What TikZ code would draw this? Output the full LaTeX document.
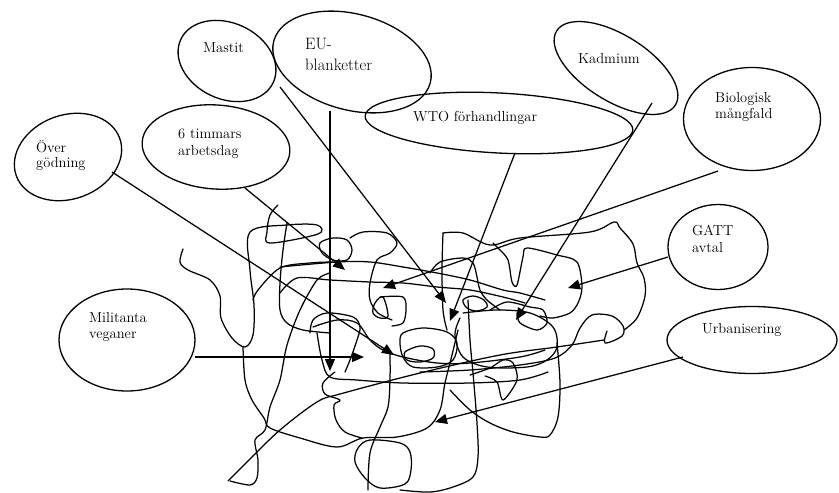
\documentclass[tikz,border=0pt]{standalone}
\usetikzlibrary{shapes.geometric,arrows.meta}
\begin{document}
\begin{tikzpicture}[x=1pt,y=-1pt,
  oval/.style={draw, ellipse, line width=1.3pt, inner sep=0pt},
  lbl/.style={anchor=base west, inner sep=0pt, font=\fontsize{14.5}{17}\selectfont},
  biglbl/.style={anchor=base west, inner sep=0pt, font=\fontsize{16.5}{19}\selectfont},
  arr/.style={line width=1.25pt, -{Triangle[length=12pt,width=10pt]}},
  sc/.style={line width=1.25pt, line join=round, line cap=round}]
\useasboundingbox (0,0) rectangle (839,493);

% ellipses
\node[oval, minimum width=110pt, minimum height=84pt, rotate=20] (ovr) at (68,157) {};
\node[oval, minimum width=102pt, minimum height=76pt, rotate=-25] (mas) at (227,61) {};
\node[oval, minimum width=162pt, minimum height=96pt, rotate=-15] (eu) at (352,62) {};
\node[oval, minimum width=148pt, minimum height=84pt, rotate=-4] (six) at (216,147) {};
\node[oval, minimum width=268pt, minimum height=60pt, rotate=-3] (wto) at (499,123) {};
\node[oval, minimum width=140pt, minimum height=66pt, rotate=-32] (kad) at (616,68) {};
\node[oval, minimum width=137pt, minimum height=103pt] (bio) at (752,119) {};
\node[oval, minimum width=100pt, minimum height=85pt] (gatt) at (718,247) {};
\node[oval, minimum width=170pt, minimum height=67pt] (urb) at (752,340) {};
\node[oval, minimum width=136pt, minimum height=102pt] (mil) at (127,340) {};

% labels
\node[lbl] (tovr1) at (36,152) {Över};
\node[lbl] (tovr2) at (36,167) {gödning};
\node[lbl] (tmas) at (203,52) {Mastit};
\node[biglbl] (teu1) at (305,49) {EU-};
\node[biglbl] (teu2) at (305,70) {blanketter};
\node[lbl] (tsix1) at (178,138) {6 timmars};
\node[lbl] (tsix2) at (178,155) {arbetsdag};
\node[lbl] (twto) at (413,121) {WTO förhandlingar};
\node[lbl] (tkad) at (578,63) {Kadmium};
\node[lbl] (tbio1) at (715,102) {Biologisk};
\node[lbl] (tbio2) at (715,118) {mångfald};
\node[lbl] (tgatt1) at (692,235) {GATT};
\node[lbl] (tgatt2) at (692,252) {avtal};
\node[lbl] (turb) at (702,333) {Urbanisering};
\node[lbl] (tmil1) at (89,322) {Militanta};
\node[lbl] (tmil2) at (89,338) {veganer};

% scribble
\draw[sc] plot[smooth,tension=0.55] coordinates {(183,249) (180,262) (188,270) (210,280) (220,296) (221,318) (232,338) (245,347) (253,335) (254,305) (250,270) (250,232) (287,225) (317,225) (318,234) (270,243) (267,232) (270,215) (278,205)};
\draw[sc] plot[smooth,tension=0.55] coordinates {(243,347) (245,380) (252,400) (264,418) (270,428) (300,438) (337,447) (363,438) (397,437) (427,428) (440,410) (445,383) (452,355) (458,330)};
\draw[sc] plot[smooth,tension=0.55] coordinates {(228,481) (247,462) (280,430) (317,402) (340,394) (420,373) (500,355) (557,347) (604,340)};
\draw[sc] plot[smooth,tension=0.55] coordinates {(607,331) (605,343) (622,336) (623,326) (612,316) (592,315) (580,328) (572,345) (555,358) (520,365) (470,370) (420,372)};
\draw[sc] plot[smooth,tension=0.55] coordinates {(443,233) (463,233) (490,245) (520,238) (590,232) (614,222) (620,228) (633,244) (637,263) (644,278) (645,296) (637,318) (624,330)};
\draw[sc] plot[smooth,tension=0.5] coordinates {(493,243) (500,250) (508,260) (512,282) (517,285) (523,257) (527,248) (557,255) (577,262) (582,287) (578,303) (570,313) (553,318) (540,316)};
\draw[sc] plot[smooth,tension=0.55] coordinates {(280,267) (337,262) (370,262) (403,267) (437,273) (470,280) (503,290) (520,293) (545,300)};
\draw[sc] plot[smooth,tension=0.55] coordinates {(280,293) (297,278) (330,280) (370,282) (403,283) (437,287) (470,290) (503,297) (525,303)};
\draw[sc] plot[smooth,tension=0.55] coordinates {(350,238) (363,232) (387,233) (397,243) (390,253) (377,260) (370,283) (370,300) (378,313) (392,320)};
\draw[sc] plot[smooth cycle,tension=0.55] coordinates {(320,243) (333,238) (347,240) (352,250) (347,260) (333,260) (322,253)};
\draw[sc] plot[smooth cycle,tension=0.55] coordinates {(400,343) (403,333) (423,328) (447,332) (457,343) (453,360) (437,367) (413,367) (403,357)};
\draw[sc] plot[smooth cycle,tension=0.55] coordinates {(405,352) (420,346) (433,349) (433,358) (420,362) (407,360)};
\draw[sc] plot[smooth,tension=0.55] coordinates {(313,327) (337,320) (357,323) (370,340) (383,350) (403,357) (437,363) (470,363) (520,357) (545,350)};
\draw[sc] plot[smooth,tension=0.55] coordinates {(317,333) (322,360) (330,377) (357,380) (403,383) (470,383) (520,380) (548,372)};
\draw[sc] plot[smooth,tension=0.55] coordinates {(287,223) (283,250) (280,283) (280,310) (287,323) (303,330) (330,333)};
\draw[sc] plot[smooth,tension=0.5] coordinates {(330,273) (317,280) (300,310) (287,345) (280,380) (270,407) (265,430) (255,440) (258,460) (257,478) (250,485) (230,481)};
\draw[sc] plot[smooth cycle,tension=0.55] coordinates {(370,440) (358,448) (355,462) (365,478) (380,488) (405,484) (411,470) (410,452) (400,443)};
\draw[sc] plot[smooth,tension=0.55] coordinates {(390,353) (390,380) (388,407) (380,427) (370,453) (368,490)};
\draw[sc] plot[smooth,tension=0.55] coordinates {(468,300) (470,340) (473,373) (477,423) (478,457) (473,477) (453,487) (430,492) (400,490)};
\draw[sc] plot[smooth,tension=0.55] coordinates {(557,343) (560,383) (558,417) (550,435) (540,437) (513,432) (490,423) (470,410) (450,390)};
\draw[sc] plot[smooth,tension=0.5] coordinates {(490,310) (507,302) (530,307) (543,310) (547,323) (537,330) (520,323) (517,313)};
\draw[sc] plot[smooth,tension=0.55] coordinates {(463,313) (497,310) (530,313) (553,327) (557,347) (547,360) (527,367) (487,367) (463,357) (455,335) (460,318)};
\draw[sc] plot[smooth,tension=0.55] coordinates {(443,233) (442,270) (443,310) (447,330)};
\draw[sc] plot[smooth,tension=0.55] coordinates {(430,273) (440,262) (463,258) (473,263) (477,277) (480,290) (487,300) (500,310)};
\draw[sc] plot[smooth,tension=0.55] coordinates {(310,333) (313,320) (327,313) (353,317) (360,327) (357,340) (350,360) (345,372)};
\draw[sc] plot[smooth,tension=0.55] coordinates {(253,300) (258,290) (280,268) (310,263) (333,262)};
\draw[sc] plot[smooth,tension=0.55] coordinates {(335,372) (323,383) (325,394) (340,400) (334,405) (336,420) (345,432) (362,438)};
\draw[sc] plot[smooth,tension=0.5] coordinates {(470,375) (490,368) (503,360) (513,363) (517,380) (503,400) (497,382) (485,376)};
\draw[sc] plot[smooth,tension=0.5] coordinates {(380,297) (403,297) (406,310) (403,323) (392,326)};
\draw[sc] plot[smooth cycle,tension=0.55] coordinates {(383,297) (375,303) (373,313) (380,318) (388,316)};
\draw[sc] plot[smooth cycle,tension=0.55] coordinates {(463,300) (473,296) (484,300) (487,307) (477,311) (467,308)};

% arrow targets
\coordinate (aovr) at (394,355);
\coordinate (asix) at (345,270);
\coordinate (amas) at (446,303);
\coordinate (aeu) at (330,371);
\coordinate (awto) at (450,321);
\coordinate (akad) at (516,320);
\coordinate (abio) at (383,288);
\coordinate (agatt) at (568,288);
\coordinate (aurb) at (435,422);
\coordinate (amil) at (364,357);
% arrow starts on ellipse borders
\coordinate (sovr) at (112,172);
\coordinate (ssix) at (245,188);
\coordinate (smas) at (280,87);
\coordinate (seu) at (330,111);
\coordinate (swto) at (515,153);
\coordinate (skad) at (652,103);
\coordinate (sbio) at (718,171);
\coordinate (sgatt) at (668,257);
\coordinate (surb) at (683,357);
\coordinate (smil) at (195,357);

\draw[arr] (sovr) -- (aovr);
\draw[arr] (ssix) -- (asix);
\draw[arr] (smas) -- (amas);
\draw[arr] (seu) -- (aeu);
\draw[arr] (swto) -- (awto);
\draw[arr] (skad) -- (akad);
\draw[arr] (sbio) -- (abio);
\draw[arr] (sgatt) -- (agatt);
\draw[arr] (surb) -- (aurb);
\draw[arr] (smil) -- (amil);
\end{tikzpicture}
\end{document}
